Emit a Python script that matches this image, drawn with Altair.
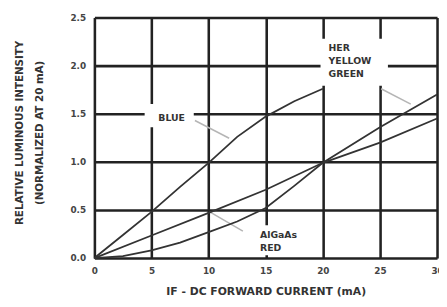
import altair as alt
import pandas as pd

# ---- data ----
x_ticks = [0, 5, 10, 15, 20, 25, 30]
y_ticks = [0.0, 0.5, 1.0, 1.5, 2.0, 2.5]

blue_x = [0, 2.5, 5, 7.5, 10, 12.5, 15, 17.5, 20]
blue_y = [0, 0.24, 0.48, 0.74, 0.99, 1.26, 1.47, 1.63, 1.76]

her_x = [0, 2.5, 5, 7.5, 10, 12.5, 15, 17.5, 20, 25, 30]
her_y = [0, 0.02, 0.08, 0.16, 0.27, 0.38, 0.52, 0.75, 0.99, 1.36, 1.70]

red_x = [0, 5, 10, 15, 20, 25, 30]
red_y = [0, 0.235, 0.47, 0.71, 0.99, 1.20, 1.45]

# annotation labels
label_lines = ["BLUE", "HER", "YELLOW", "GREEN", "AlGaAs", "RED"]
label_x = [5.6, 20.5, 20.5, 20.5, 14.5, 14.5]
label_y = [1.45, 2.18, 2.05, 1.91, 0.24, 0.10]

# white boxes behind labels (break the grid)
box_x = [4.4, 19.8, 13.7]
box_x2 = [8.7, 25.7, 18.4]
box_y = [1.36, 1.79, 0.03]
box_y2 = [1.60, 2.28, 0.34]

# leader lines
lead_x = [8.8, 25.1, 10.1]
lead_y = [1.43, 1.76, 0.48]
lead_x2 = [11.8, 27.7, 13.0]
lead_y2 = [1.245, 1.60, 0.28]

curves = pd.concat([
    pd.DataFrame({"x": blue_x, "y": blue_y, "s": "blue"}),
    pd.DataFrame({"x": her_x, "y": her_y, "s": "her"}),
    pd.DataFrame({"x": red_x, "y": red_y, "s": "red"}),
])
labels = pd.DataFrame({"t": label_lines, "x": label_x, "y": label_y})
boxes = pd.DataFrame({"x": box_x, "x2": box_x2, "y": box_y, "y2": box_y2})
leads = pd.DataFrame({"x": lead_x, "y": lead_y, "x2": lead_x2, "y2": lead_y2})

FONT = "DejaVu Sans"
INK = "#222222"

xscale = alt.Scale(domain=[0, 30], nice=False, zero=False)
yscale = alt.Scale(domain=[0, 2.5], nice=False, zero=False)

xaxis = alt.Axis(
    values=x_ticks, grid=True, gridColor=INK, gridWidth=2.6, gridOpacity=1,
    ticks=False, domain=False, labelFont=FONT, labelFontSize=9, labelFontWeight="bold",
    labelColor="#444", labelPadding=9, labelFlush=False,
    title="IF - DC FORWARD CURRENT (mA)", titleFont=FONT, titleFontSize=11,
    titleFontWeight="bold", titleColor="#333", titleBaseline="middle", titleY=34,
)
yaxis = alt.Axis(
    values=y_ticks, format=".1f", grid=True, gridColor=INK, gridWidth=2.6, gridOpacity=1,
    ticks=False, domain=False, labelFont=FONT, labelFontSize=9, labelFontWeight="bold",
    labelColor="#444", labelPadding=9, labelFlush=False,
    title=["RELATIVE LUMINOUS INTENSITY", "(NORMALIZED AT 20 mA)"],
    titleFont=FONT, titleFontSize=10.5, titleFontWeight="bold", titleColor="#333",
    titleAngle=270, titleAlign="center", titleBaseline="middle", titleLineHeight=20,
    titleX=-76, titleY=117,
)

base_x = alt.X("x:Q", scale=xscale, axis=xaxis)
base_y = alt.Y("y:Q", scale=yscale, axis=yaxis)

box_layer = alt.Chart(boxes).mark_rect(color="white").encode(
    x=base_x, x2="x2", y=base_y, y2="y2"
)
lead_layer = alt.Chart(leads).mark_rule(color="#b5b5b5", strokeWidth=1.5).encode(
    x=alt.X("x:Q", scale=xscale), x2="x2", y=alt.Y("y:Q", scale=yscale), y2="y2"
)
line_layer = alt.Chart(curves).mark_line(color="#333", strokeWidth=1.8).encode(
    x=alt.X("x:Q", scale=xscale), y=alt.Y("y:Q", scale=yscale), detail="s:N"
)
text_layer = alt.Chart(labels).mark_text(
    font=FONT, fontSize=9.5, fontWeight="bold", color="#333", align="left", baseline="middle"
).encode(
    x=alt.X("x:Q", scale=xscale), y=alt.Y("y:Q", scale=yscale), text="t:N"
)

chart = alt.layer(box_layer, lead_layer, line_layer, text_layer).properties(
    width=349, height=245,
    autosize=alt.AutoSizeParams(type="none"),
    padding={"left": 88, "top": 7, "right": 2, "bottom": 39},
).configure_view(stroke=INK, strokeWidth=3).configure(background="white")

chart.save("out.html", embed_options={"renderer": "svg", "actions": False})
